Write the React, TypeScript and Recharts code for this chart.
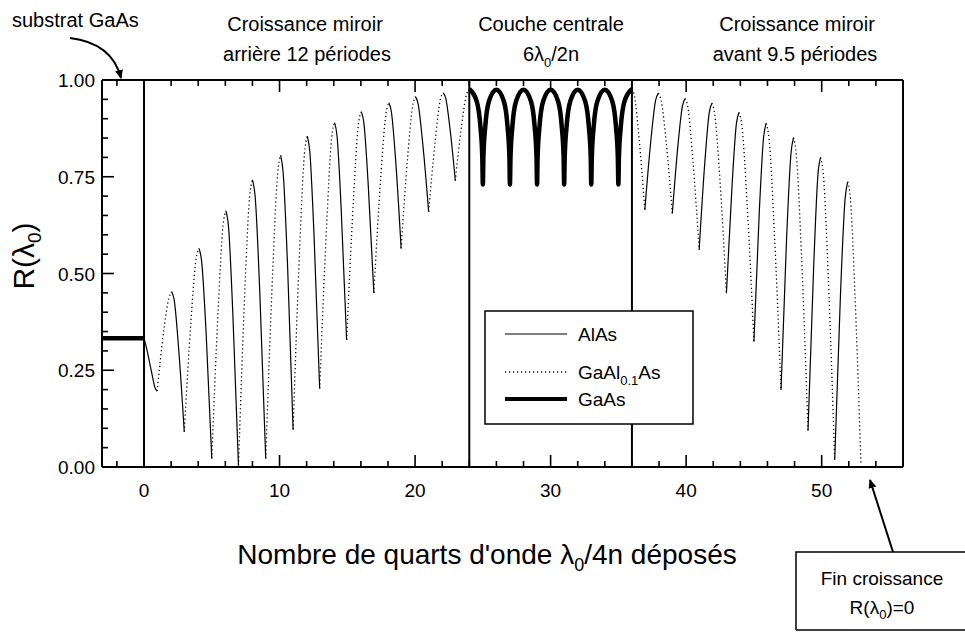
import { LineChart, Line, XAxis, YAxis, ReferenceLine } from "recharts";

const FONT = '"Liberation Sans", Arial, Helvetica, sans-serif';

type Pt = [number, number];

// GaAs (thick): substrate then the central cavity
const gaasSubstrat: Pt[] = [
  [-3.1, 0.333],
  [0, 0.333],
];
const gaasCentre: Pt[] = [
  [24, 0.977], [24.55, 0.945], [24.82, 0.88], [24.96, 0.8], [25, 0.73],
  [25.04, 0.8], [25.18, 0.88], [25.45, 0.945], [26, 0.975],
  [26.55, 0.945], [26.82, 0.88], [26.96, 0.8], [27, 0.73],
  [27.04, 0.8], [27.18, 0.88], [27.45, 0.945], [28, 0.975],
  [28.55, 0.945], [28.82, 0.88], [28.96, 0.8], [29, 0.73],
  [29.04, 0.8], [29.18, 0.88], [29.45, 0.945], [30, 0.975],
  [30.55, 0.945], [30.82, 0.88], [30.96, 0.8], [31, 0.73],
  [31.04, 0.8], [31.18, 0.88], [31.45, 0.945], [32, 0.975],
  [32.55, 0.945], [32.82, 0.88], [32.96, 0.8], [33, 0.73],
  [33.04, 0.8], [33.18, 0.88], [33.45, 0.945], [34, 0.975],
  [34.55, 0.945], [34.82, 0.88], [34.96, 0.8], [35, 0.73],
  [35.04, 0.8], [35.18, 0.88], [35.45, 0.945], [36, 0.977],
];

// AlAs (solid): one list per layer
const alasLayers: Pt[][] = [
  [[0, 0.333], [0.2, 0.305], [0.57, 0.243], [0.82, 0.204], [0.97, 0.196]],
  [[2.04, 0.453], [2.23, 0.431], [2.55, 0.308], [2.97, 0.091]],
  [[4.06, 0.565], [4.25, 0.532], [4.58, 0.348], [5.0, 0.022]],
  [[6.04, 0.662], [6.23, 0.623], [6.55, 0.399], [6.97, 0.004]],
  [[8.0, 0.742], [8.2, 0.699], [8.54, 0.454], [8.98, 0.022]],
  [[10.08, 0.806], [10.26, 0.763], [10.59, 0.522], [11.0, 0.097]],
  [[12.05, 0.855], [12.23, 0.816], [12.55, 0.594], [12.96, 0.203]],
  [[14.06, 0.89], [14.24, 0.856], [14.55, 0.665], [14.95, 0.328]],
  [[16.03, 0.918], [16.22, 0.89], [16.54, 0.731], [16.96, 0.45]],
  [[18.07, 0.941], [18.25, 0.918], [18.57, 0.791], [18.97, 0.565]],
  [[20.03, 0.957], [20.22, 0.939], [20.56, 0.838], [21.0, 0.66]],
  [[22.08, 0.967], [22.26, 0.953], [22.57, 0.876], [22.97, 0.74]],
  [[36.95, 0.664], [37.4, 0.845], [37.75, 0.948], [37.95, 0.966]],
  [[38.98, 0.655], [39.4, 0.833], [39.73, 0.934], [39.92, 0.952]],
  [[40.96, 0.561], [41.38, 0.788], [41.71, 0.917], [41.9, 0.94]],
  [[42.97, 0.449], [43.39, 0.729], [43.71, 0.888], [43.9, 0.916]],
  [[45.0, 0.324], [45.4, 0.662], [45.72, 0.854], [45.9, 0.888]],
  [[47.0, 0.199], [47.41, 0.59], [47.74, 0.812], [47.92, 0.851]],
  [[48.99, 0.094], [49.41, 0.518], [49.73, 0.758], [49.92, 0.8]],
  [[50.96, 0.018], [51.39, 0.449], [51.73, 0.694], [51.92, 0.737]],
];

// GaAl0.1As (dotted): one list per layer
const gaalLayers: Pt[][] = [
  [[0.97, 0.196], [1.45, 0.35], [1.83, 0.436], [2.04, 0.453]],
  [[2.97, 0.091], [3.46, 0.375], [3.84, 0.537], [4.06, 0.565]],
  [[5.0, 0.022], [5.47, 0.406], [5.83, 0.624], [6.04, 0.662]],
  [[6.97, 0.004], [7.43, 0.447], [7.79, 0.698], [8.0, 0.742]],
  [[8.98, 0.022], [9.48, 0.492], [9.86, 0.759], [10.08, 0.806]],
  [[11.0, 0.097], [11.47, 0.552], [11.84, 0.81], [12.05, 0.855]],
  [[12.96, 0.203], [13.46, 0.615], [13.84, 0.849], [14.06, 0.89]],
  [[14.95, 0.328], [15.44, 0.682], [15.81, 0.883], [16.03, 0.918]],
  [[16.96, 0.45], [17.46, 0.745], [17.85, 0.912], [18.07, 0.941]],
  [[18.97, 0.565], [19.45, 0.8], [19.82, 0.933], [20.03, 0.957]],
  [[21.0, 0.66], [21.49, 0.844], [21.86, 0.949], [22.08, 0.967]],
  [[22.97, 0.74], [23.43, 0.882], [23.79, 0.962], [24.0, 0.976]],
  [[36.0, 0.977], [36.19, 0.958], [36.52, 0.852], [36.95, 0.664]],
  [[37.95, 0.966], [38.16, 0.947], [38.52, 0.842], [38.98, 0.655]],
  [[39.92, 0.952], [40.13, 0.929], [40.49, 0.796], [40.96, 0.561]],
  [[41.9, 0.94], [42.11, 0.911], [42.49, 0.744], [42.97, 0.449]],
  [[43.9, 0.916], [44.12, 0.88], [44.5, 0.679], [45.0, 0.324]],
  [[45.9, 0.888], [46.12, 0.847], [46.5, 0.612], [47.0, 0.199]],
  [[47.92, 0.851], [48.13, 0.806], [48.51, 0.548], [48.99, 0.094]],
  [[49.92, 0.8], [50.13, 0.753], [50.49, 0.487], [50.96, 0.018]],
  [[51.92, 0.737], [52.12, 0.693], [52.46, 0.442], [52.9, 0.005]],
];

const xTicks = [-2, 0, 2, 4, 6, 8, 10, 12, 14, 16, 18, 20, 22, 24, 26, 28, 30, 32, 34, 36, 38, 40, 42, 44, 46, 48, 50, 52, 54];
const xLabels = [0, 10, 20, 30, 40, 50];
const yTicks = [0, 0.05, 0.1, 0.15, 0.2, 0.25, 0.3, 0.35, 0.4, 0.45, 0.5, 0.55, 0.6, 0.65, 0.7, 0.75, 0.8, 0.85, 0.9, 0.95, 1];
const yLabels = [0, 0.25, 0.5, 0.75, 1];
const layerBounds = [0, 24, 36];

// merge everything into one table keyed by x; gaps split the layers
type Row = { x: number; alas?: number; gaal?: number; gaas?: number };
const rowMap = new Map<number, Row>();
const addSeries = (key: "alas" | "gaal" | "gaas", segs: Pt[][]) => {
  segs.forEach((seg) =>
    seg.forEach(([x, r]) => {
      const k = Math.round(x * 1000);
      const row = rowMap.get(k) ?? { x };
      row[key] = r;
      rowMap.set(k, row);
    })
  );
};
addSeries("gaas", [gaasSubstrat, gaasCentre]);
addSeries("alas", alasLayers);
addSeries("gaal", gaalLayers);
const data = [...rowMap.values()].sort((a, b) => a.x - b.x);

const YTick = ({ x, y, payload }: any) => {
  const major = yLabels.includes(payload.value);
  return (
    <g>
      <line x1={x} x2={x + (major ? 12 : 6)} y1={y} y2={y} stroke="#000" strokeWidth={1.6} />
      {major && (
        <text x={x - 7} y={y + 7} textAnchor="end" fontSize={19} fontFamily={FONT} fill="#000">
          {payload.value.toFixed(2)}
        </text>
      )}
    </g>
  );
};

const XTickBottom = ({ x, y, payload }: any) => {
  const major = xLabels.includes(payload.value);
  return (
    <g>
      <line x1={x} x2={x} y1={y} y2={y - (major ? 12 : 6)} stroke="#000" strokeWidth={1.6} />
      {major && (
        <text x={x} y={y + 30} textAnchor="middle" fontSize={19} fontFamily={FONT} fill="#000">
          {payload.value}
        </text>
      )}
    </g>
  );
};

const XTickTop = ({ x, y, payload }: any) => {
  const major = xLabels.includes(payload.value);
  return <line x1={x} x2={x} y1={y} y2={y + (major ? 12 : 6)} stroke="#000" strokeWidth={1.6} />;
};

const axisLine = { stroke: "#000", strokeWidth: 2 };

const Overlay = () => (
  <svg
    width={965}
    height={635}
    style={{ position: "absolute", left: 0, top: 0, pointerEvents: "none" }}
    fontFamily={FONT}
    fill="#000"
  >
    <defs>
      <marker id="head" markerWidth="10" markerHeight="10" refX="8" refY="5" orient="auto" markerUnits="userSpaceOnUse">
        <path d="M0,1 L9,5 L0,9 Z" fill="#000" />
      </marker>
    </defs>

    {/* top annotations */}
    <text x={12} y={27} fontSize={20}>substrat GaAs</text>
    <path d="M70,38 Q112,43 121,78" fill="none" stroke="#000" strokeWidth={2} markerEnd="url(#head)" />

    <text x={305} y={31} fontSize={20} textAnchor="middle">Croissance miroir</text>
    <text x={307} y={61} fontSize={20} textAnchor="middle">arrière 12 périodes</text>

    <text x={551} y={31} fontSize={20} textAnchor="middle">Couche centrale</text>
    <text x={551} y={61} fontSize={20} textAnchor="middle">
      6λ<tspan dy={6} fontSize={13}>0</tspan>
      <tspan dy={-6}>/2n</tspan>
    </text>

    <text x={797} y={31} fontSize={20} textAnchor="middle">Croissance miroir</text>
    <text x={795} y={61} fontSize={20} textAnchor="middle">avant 9.5 périodes</text>

    {/* axis titles */}
    <text transform="translate(34,256) rotate(-90)" fontSize={30} textAnchor="middle">
      R(λ<tspan dy={7} fontSize={19}>0</tspan>
      <tspan dy={-7}>)</tspan>
    </text>
    <text x={487} y={564} fontSize={28} textAnchor="middle">
      Nombre de quarts d'onde λ<tspan dy={7} fontSize={18}>0</tspan>
      <tspan dy={-7}>/4n déposés</tspan>
    </text>

    {/* legend */}
    <rect x={485} y={311} width={208} height={113} fill="#fff" stroke="#000" strokeWidth={1.5} />
    <line x1={505} x2={567} y1={334} y2={334} stroke="#000" strokeWidth={1.2} />
    <text x={578} y={341} fontSize={19}>AlAs</text>
    <line x1={505} x2={567} y1={372} y2={372} stroke="#000" strokeWidth={1.3} strokeDasharray="1.2 2.8" />
    <text x={578} y={379} fontSize={19}>
      GaAl<tspan dy={6} fontSize={13}>0.1</tspan>
      <tspan dy={-6}>As</tspan>
    </text>
    <line x1={505} x2={567} y1={399} y2={399} stroke="#000" strokeWidth={4} />
    <text x={578} y={406} fontSize={19}>GaAs</text>

    {/* end-of-growth note */}
    <path d="M893,552 L870,480" fill="none" stroke="#000" strokeWidth={2} markerEnd="url(#head)" />
    <path d="M796,630 L796,552 L965,552" fill="none" stroke="#000" strokeWidth={1.5} />
    <line x1={796} x2={965} y1={630} y2={630} stroke="#000" strokeWidth={1.5} />
    <text x={882} y={585} fontSize={19} textAnchor="middle">Fin croissance</text>
    <text x={882} y={614} fontSize={19} textAnchor="middle">
      R(λ<tspan dy={5} fontSize={13}>0</tspan>
      <tspan dy={-5}>)=0</tspan>
    </text>
  </svg>
);

export default function App() {
  return (
    <div style={{ position: "absolute", left: 0, top: 0, width: 965, height: 635, background: "#fff" }}>
      <LineChart
        width={965}
        height={635}
        data={data}
        margin={{ top: 50, right: 32, bottom: 138, left: 42 }}
        style={{ fontFamily: FONT }}
      >
        <XAxis
          dataKey="x"
          type="number"
          domain={[-3.1, 56]}
          allowDataOverflow
          ticks={xTicks}
          interval={0}
          tick={<XTickBottom />}
          tickLine={false}
          tickSize={0}
          tickMargin={0}
          axisLine={axisLine}
          height={30}
        />
        <XAxis
          xAxisId="top"
          orientation="top"
          dataKey="x"
          type="number"
          domain={[-3.1, 56]}
          allowDataOverflow
          ticks={xTicks}
          interval={0}
          tick={<XTickTop />}
          tickLine={false}
          tickSize={0}
          tickMargin={0}
          axisLine={axisLine}
          height={30}
        />
        <YAxis
          type="number"
          domain={[0, 1]}
          ticks={yTicks}
          interval={0}
          tick={<YTick />}
          tickLine={false}
          tickSize={0}
          tickMargin={0}
          axisLine={axisLine}
          width={60}
        />
        <YAxis
          yAxisId="right"
          orientation="right"
          type="number"
          domain={[0, 1]}
          tick={false}
          tickLine={false}
          axisLine={axisLine}
          width={30}
        />
        {layerBounds.map((b) => (
          <ReferenceLine key={b} x={b} stroke="#000" strokeWidth={2} />
        ))}
        <Line
          dataKey="gaas"
          type="monotone"
          stroke="#000"
          strokeWidth={4.5}
          strokeLinejoin="round"
          dot={false}
          activeDot={false}
          isAnimationActive={false}
        />
        <Line
          dataKey="alas"
          type="monotone"
          stroke="#000"
          strokeWidth={1.2}
          dot={false}
          activeDot={false}
          isAnimationActive={false}
        />
        <Line
          dataKey="gaal"
          type="monotone"
          stroke="#000"
          strokeWidth={1.3}
          strokeDasharray="1.2 2.8"
          dot={false}
          activeDot={false}
          isAnimationActive={false}
        />
      </LineChart>
      <Overlay />
    </div>
  );
}
